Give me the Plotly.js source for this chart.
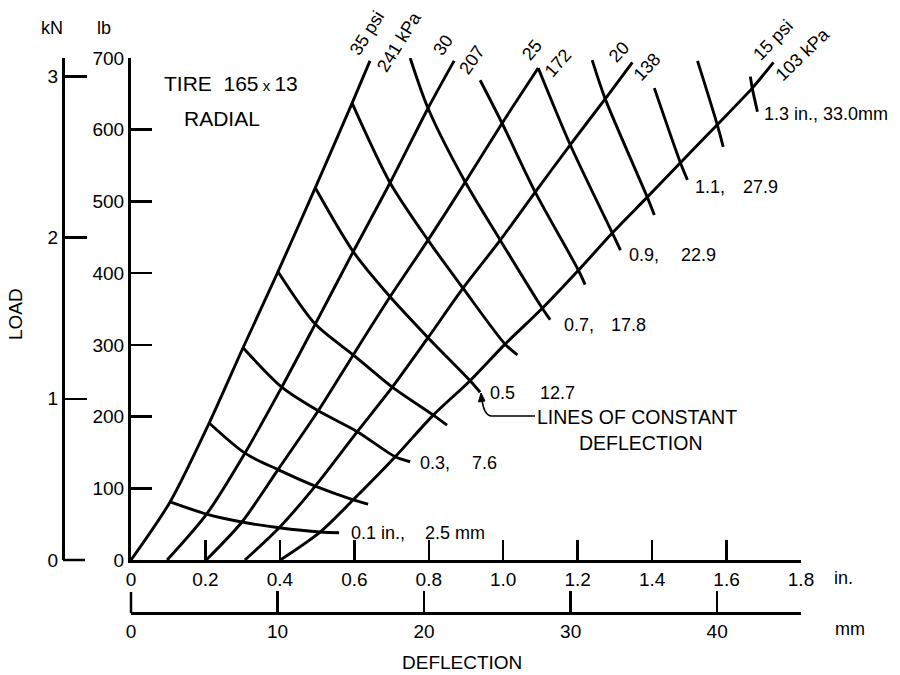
<!DOCTYPE html>
<html><head><meta charset="utf-8">
<script src="https://cdn.plot.ly/plotly-3.0.1.min.js"></script>
<style>html,body{margin:0;padding:0;background:#fff}</style>
</head><body><div id="chart" style="width:900px;height:675px"></div>
<script>
// ---------------- DATA ----------------
// inflation pressures
const pressurePsi = ['35 psi', '30', '25', '20', '15 psi'];
const pressureKpa = ['241 kPa', '207', '172', '138', '103 kPa'];
// lines of constant deflection (in.)
const deflectionIn = [0.1, 0.2, 0.3, 0.4, 0.5, 0.6, 0.7, 0.8, 0.9, 1.0, 1.1, 1.2, 1.3];
const deflLabelIn = ['0.1 in.,', '0.3,', '0.5', '0.7,', '0.9,', '1.1,'];
const deflLabelMm = ['2.5 mm', '7.6', '12.7', '17.8', '22.9', '27.9'];
const deflLabelLast = '1.3 in., 33.0mm';

// load–deflection curves: chart deflection position (in.) and load (lb)
// at each crossing with a line of constant deflection (null = no crossing)
const start35 = 0.0;
const x35    = [0.105, 0.210, 0.301, 0.395, 0.495, 0.594, null, null, null, null, null, null, null];
const load35 = [81, 191, 296, 402, 519, 637, null, null, null, null, null, null, null];
const top35  = [0.642, 696];

const start30 = 0.097;
const x30    = [0.203, 0.306, 0.405, 0.495, 0.597, 0.696, 0.798, null, null, null, null, null, null];
const load30 = [64, 149, 241, 329, 430, 526, 630, null, null, null, null, null, null];
const top30  = [0.868, 696];

const start25 = 0.202;
const x25    = [0.298, 0.395, 0.503, 0.597, 0.696, 0.798, 0.898, 0.997, 1.094, null, null, null, null];
const load25 = [53, 126, 208, 286, 367, 446, 527, 609, 686, null, null, null, null];
const top25  = null;

const start20 = 0.306;
const x20    = [0.398, 0.495, 0.608, 0.702, 0.798, 0.892, 0.992, 1.086, 1.180, 1.274, null, null, null];
const load20 = [45, 103, 179, 241, 310, 379, 446, 513, 579, 643, null, null, null];
const top20  = [1.347, 694];

const start15 = 0.401;
const x15    = [0.508, 0.597, 0.710, 0.812, 0.911, 1.005, 1.105, 1.202, 1.293, 1.387, 1.476, 1.575, 1.669];
const load15 = [39, 84, 144, 202, 250, 301, 351, 404, 456, 506, 554, 607, 658];
const top15  = [1.726, 694];

// free ends of the constant-deflection lines
const deflStartX    = [null, null, null, null, null, null, 0.750, 0.938, null, 1.239, 1.406, 1.522, 1.664];
const deflStartLoad = [null, null, null, null, null, null, 700, 669, null, 697, 658, 696, 674];
const deflEndX      = [0.559, 0.637, 0.750, 0.849, 0.938, 1.038, 1.126, 1.220, 1.315, 1.406, 1.495, 1.591, 1.683];
const deflEndLoad   = [38, 78, 137, 188, 234, 286, 335, 384, 432, 481, 530, 576, 625];

// axes
const inTickVals = [0, 0.2, 0.4, 0.6, 0.8, 1.0, 1.2, 1.4, 1.6, 1.8];
const inTickText = ['0', '0.2', '0.4', '0.6', '0.8', '1.0', '1.2', '1.4', '1.6', '1.8'];
const mmTickVals = [0, 10, 20, 30, 40];
const lbTickVals = [0, 100, 200, 300, 400, 500, 600, 700];
const kNTickVals = [0, 1, 2, 3];
const LB_TO_KN = 0.00444822;
const IN_TO_MM = 25.4;

// ---------------- FIGURE ----------------
const FONT = 'Liberation Sans, Arial, Helvetica, sans-serif';
const W = 900, H = 675;
const M = {l: 63, r: 99, t: 58, b: 62};
const PW = W - M.l - M.r, PH = H - M.t - M.b;
const px = v => (v - M.l) / PW;   // pixel -> paper x
const py = v => (H - M.b - v) / PH; // pixel -> paper y

const curves = [
  {start: start35, x: x35, load: load35, top: top35},
  {start: start30, x: x30, load: load30, top: top30},
  {start: start25, x: x25, load: load25, top: top25},
  {start: start20, x: x20, load: load20, top: top20},
  {start: start15, x: x15, load: load15, top: top15}
];
const LINE = {color: '#000', width: 2.9, shape: 'spline', smoothing: 0.8};
const traces = [];
curves.forEach(c => {
  const xs = [c.start], ys = [0];
  c.x.forEach((v, i) => { if (v !== null) { xs.push(v); ys.push(c.load[i]); } });
  if (c.top) { xs.push(c.top[0]); ys.push(c.top[1]); }
  traces.push({type: 'scatter', mode: 'lines', x: xs, y: ys, line: LINE,
    hoverinfo: 'skip', showlegend: false});
});
deflectionIn.forEach((d, j) => {
  const xs = [], ys = [];
  if (deflStartX[j] !== null) { xs.push(deflStartX[j]); ys.push(deflStartLoad[j]); }
  curves.forEach(c => { if (c.x[j] !== null) { xs.push(c.x[j]); ys.push(c.load[j]); } });
  xs.push(deflEndX[j]); ys.push(deflEndLoad[j]);
  traces.push({type: 'scatter', mode: 'lines', x: xs, y: ys, line: LINE,
    hoverinfo: 'skip', showlegend: false, name: d + ' in.'});
});
// carrier for secondary (mm / kN) axes
traces.push({type: 'scatter', mode: 'markers', x: [0, 1.8 * IN_TO_MM], y: [0, 700 * LB_TO_KN],
  xaxis: 'x2', yaxis: 'y2', marker: {opacity: 0}, hoverinfo: 'skip', showlegend: false});

const annotations = [];
function ann(text, x, y, o) {
  annotations.push(Object.assign({text: text, xref: 'paper', yref: 'paper', x: px(x), y: py(y),
    showarrow: false, xanchor: 'left', yanchor: 'middle',
    font: {family: FONT, size: 18, color: '#000'}}, o || {}));
}
// units and titles
ann('kN', 52, 28, {xanchor: 'center'});
ann('lb', 104, 28, {xanchor: 'center'});
ann('in.', 832, 578);
ann('mm', 833, 629);
ann('LOAD', 15, 314, {xanchor: 'center', textangle: -90, font: {family: FONT, size: 19, color: '#000'}});
ann('DEFLECTION', 462, 662, {xanchor: 'center', font: {family: FONT, size: 19, color: '#000'}});
ann('TIRE&nbsp;&nbsp;165<span style="font-size:15px"> x </span>13', 162, 84, {font: {family: FONT, size: 21, color: '#000'}});
ann('RADIAL', 182, 118, {font: {family: FONT, size: 21, color: '#000'}});
ann('LINES OF CONSTANT', 535, 417, {font: {family: FONT, size: 19.5, color: '#000'}});
ann('DEFLECTION', 641, 443, {xanchor: 'center', font: {family: FONT, size: 19.5, color: '#000'}});
// deflection labels
const inPos = [[349, 533], [418, 463], [488, 393], [562, 325], [627, 255], [693, 187]];
const mmPos = [[423, 533], [470, 463], [538, 393], [609, 325], [679, 255], [741, 187]];
deflLabelIn.forEach((t, i) => ann(t, inPos[i][0], inPos[i][1]));
deflLabelMm.forEach((t, i) => ann(t, mmPos[i][0], mmPos[i][1]));
ann(deflLabelLast, 762, 114);
// pressure labels
const psiPos = [[367, 33, -58], [443, 45, -55], [532, 50, -50], [619, 52, -47], [773, 40, -46]];
const kpaPos = [[399, 42, -58], [472, 60, -55], [558, 63, -49], [647, 67, -47], [803, 54, -44]];
pressurePsi.forEach((t, i) => ann(t, psiPos[i][0], psiPos[i][1], {xanchor: 'center', textangle: psiPos[i][2]}));
pressureKpa.forEach((t, i) => ann(t, kpaPos[i][0], kpaPos[i][1], {xanchor: 'center', textangle: kpaPos[i][2]}));

// leader arrow for "LINES OF CONSTANT DEFLECTION" and end ticks at the axis corners
const shapes = [
  {type: 'path', xref: 'paper', yref: 'paper',
   path: `M ${px(535)} ${py(416)} L ${px(491)} ${py(416)} Q ${px(484)} ${py(415)} ${px(482)} ${py(400)}`,
   line: {color: '#000', width: 1.6}},
  {type: 'path', xref: 'paper', yref: 'paper',
   path: `M ${px(481)} ${py(393)} L ${px(478.5)} ${py(402)} L ${px(485)} ${py(401)} Z`,
   fillcolor: '#000', line: {color: '#000', width: 1}},
  {type: 'line', xref: 'paper', yref: 'paper', x0: px(131), x1: px(131), y0: py(613), y1: py(592),
   line: {color: '#000', width: 2.5}},
  {type: 'line', xref: 'paper', yref: 'paper', x0: px(63), x1: px(85), y0: py(560), y1: py(560),
   line: {color: '#000', width: 2.5}}
];

const axisCommon = {showgrid: false, zeroline: false, showline: true, linecolor: '#000', linewidth: 3,
  ticks: 'inside', tickcolor: '#000', tickwidth: 2.5, fixedrange: true,
  tickfont: {family: FONT, size: 19, color: '#000'}};

const layout = {
  width: W, height: H, margin: M, paper_bgcolor: '#fff', plot_bgcolor: 'rgba(0,0,0,0)',
  showlegend: false,
  xaxis: Object.assign({}, axisCommon, {domain: [(131 - M.l) / PW, 1], range: [0, 1.8], anchor: 'y',
    tickmode: 'array', tickvals: inTickVals, ticktext: inTickText, ticklen: 20}),
  yaxis: Object.assign({}, axisCommon, {domain: [(H - M.b - 560) / PH, 1], range: [0, 700], anchor: 'x',
    tickmode: 'array', tickvals: lbTickVals, ticklen: 21}),
  xaxis2: Object.assign({}, axisCommon, {overlaying: 'x', anchor: 'free', position: 0, side: 'bottom',
    range: [0, 1.8 * IN_TO_MM], tickmode: 'array', tickvals: mmTickVals, ticklen: 21}),
  yaxis2: Object.assign({}, axisCommon, {overlaying: 'y', anchor: 'free', position: 0, side: 'left',
    range: [0, 700 * LB_TO_KN], tickmode: 'array', tickvals: kNTickVals, ticklen: 22}),
  annotations: annotations,
  shapes: shapes
};
Plotly.newPlot('chart', traces, layout, {staticPlot: true, displayModeBar: false});
</script></body></html>
